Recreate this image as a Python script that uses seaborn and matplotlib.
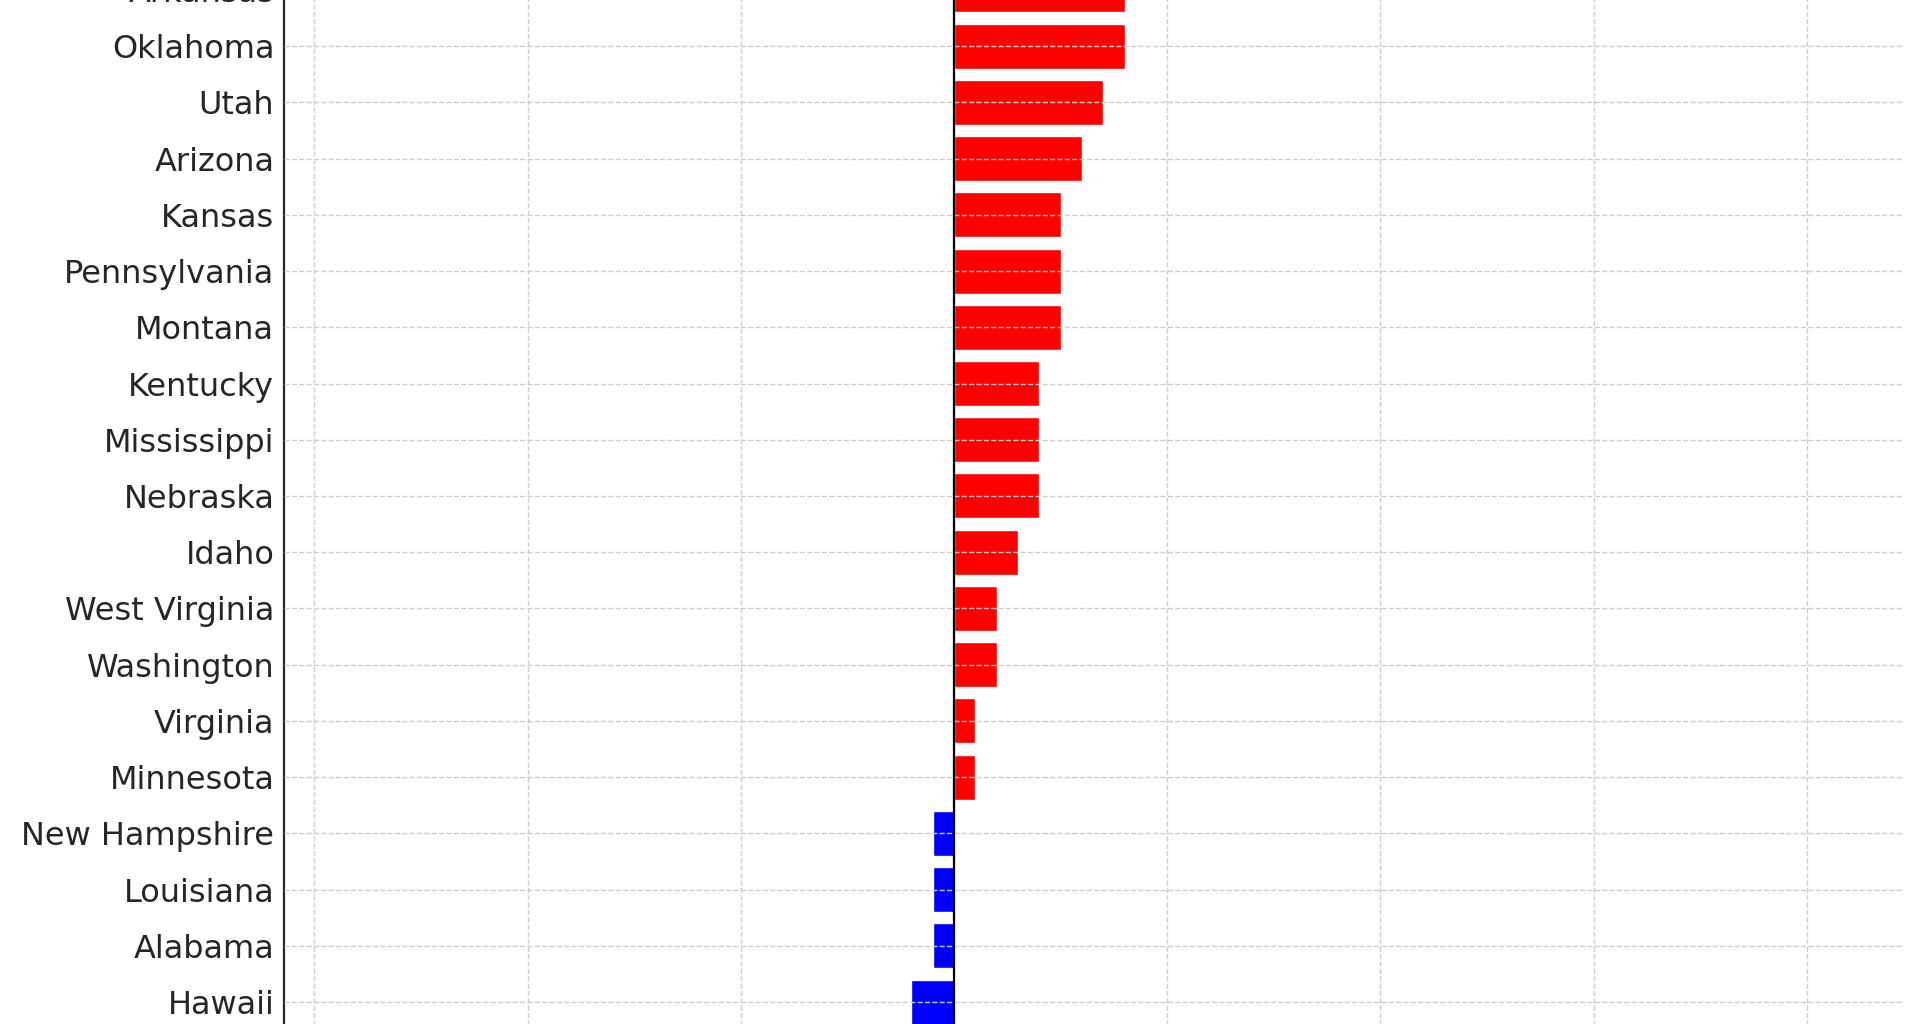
import matplotlib
matplotlib.use("Agg")
import matplotlib.pyplot as plt
import seaborn as sns
import pandas as pd

states = ["Arkansas", "Oklahoma", "Utah", "Arizona", "Kansas", "Pennsylvania",
          "Montana", "Kentucky", "Mississippi", "Nebraska", "Idaho",
          "West Virginia", "Washington", "Virginia", "Minnesota",
          "New Hampshire", "Louisiana", "Alabama", "Hawaii"]
values = [0.8, 0.8, 0.7, 0.6, 0.5, 0.5, 0.5, 0.4, 0.4, 0.4, 0.3,
          0.2, 0.2, 0.1, 0.1, -0.1, -0.1, -0.1, -0.2]
x_ticks = [-3, -2, -1, 0, 1, 2, 3, 4]

df = pd.DataFrame({"state": states, "value": values})
df["sign"] = ["pos" if v > 0 else "neg" for v in df["value"]]

sns.set_style("white")
plt.rcParams["font.family"] = ["DejaVu Sans"]

fig = plt.figure(figsize=(19.2, 10.24), dpi=100)
# axes extends slightly beyond the canvas so the view is cropped like the reference
ext = 40
ax = fig.add_axes([284 / 1920, -ext / 1024, (1902 - 284) / 1920, (1024 + 2 * ext) / 1024])

sns.barplot(data=df, x="value", y="state", hue="sign",
            palette={"pos": "#ff0000", "neg": "#0000ff"},
            order=states, orient="h", saturation=1, width=0.8,
            legend=False, ax=ax, zorder=1)

ax.axvline(0, color="black", linewidth=1.6, zorder=3)

ax.set_xticks(x_ticks)
ax.set_xlim(-3.143, 4.447)
row = 56.25
ax.set_ylim(18.387 + ext / row, 0.182 - ext / row)

ax.grid(True, axis="both", linestyle="--", linewidth=1.0, color="#cccccc", zorder=2)
ax.set_axisbelow(False)

for side in ["top", "right", "bottom"]:
    ax.spines[side].set_visible(False)
ax.spines["left"].set_color("#262626")
ax.spines["left"].set_linewidth(1.6)

ax.tick_params(axis="x", length=0, labelbottom=False)
ax.tick_params(axis="y", direction="in", length=7, width=1.4, color="#262626",
               labelsize=23, labelcolor="#262626", pad=7)
ax.set_xlabel("")
ax.set_ylabel("")

fig.savefig("out.png", dpi=100)
